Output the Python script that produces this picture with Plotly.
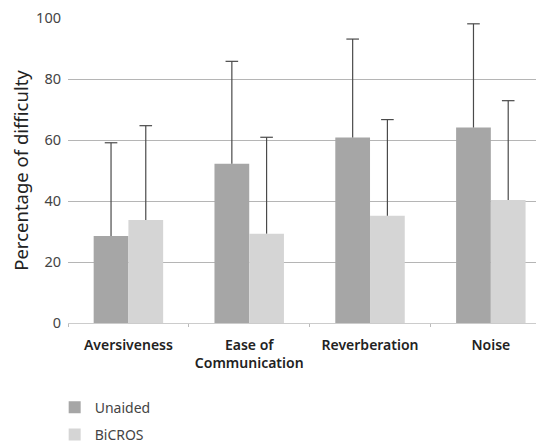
import plotly.graph_objects as go

categories = ["Aversiveness", "Ease of<br>Communication", "Reverberation", "Noise"]
unaided = [28.5, 52.2, 60.8, 64.1]
unaided_err = [30.6, 33.6, 32.3, 34.0]
bicros = [33.8, 29.3, 35.2, 40.3]
bicros_err = [30.9, 31.6, 31.5, 32.6]
y_ticks = [0, 20, 40, 60, 80, 100]

FONT = "Noto Sans"
ERR_COLOR = "#4a4a4a"


def add_series(name, vals, errs, color, group):
    fig.add_trace(go.Bar(
        name=name, x=categories, y=vals, marker_color=color,
        marker_line_width=0, legendgroup=group, offsetgroup=group,
        error_y=dict(type="data", symmetric=False, array=errs,
                     arrayminus=[0] * len(vals), color=ERR_COLOR,
                     thickness=1.2, width=0),
    ))
    # caps on the top end of the error bars only
    fig.add_trace(go.Scatter(
        x=categories, y=[v + e for v, e in zip(vals, errs)],
        mode="markers", offsetgroup=group, showlegend=False,
        hoverinfo="skip",
        marker=dict(symbol="line-ew", size=9,
                    line=dict(color=ERR_COLOR, width=1.2)),
    ))


fig = go.Figure()
add_series("Unaided", unaided, unaided_err, "#a6a6a6", "a")
add_series("BiCROS", bicros, bicros_err, "#d5d5d5", "b")

fig.update_layout(
    width=536, height=438,
    margin=dict(l=60, r=0, t=10, b=123, autoexpand=False),
    plot_bgcolor="white", paper_bgcolor="white",
    barmode="group", bargap=0.425, bargroupgap=0,
    scattermode="group", scattergap=0.425,
    font=dict(family=FONT, color="#444444", size=13),
    showlegend=True,
    legend=dict(x=-0.028, y=-0.225, xanchor="left", yanchor="top",
                orientation="v", traceorder="grouped", tracegroupgap=6,
                font=dict(size=14, color="#444444")),
    xaxis=dict(range=[-0.5, 3.44], showgrid=False, showline=True,
               linecolor="#cccccc", linewidth=1,
               tickson="boundaries", ticks="outside", ticklen=3,
               tickcolor="#bbbbbb", automargin=False,
               ticklabelstandoff=9,
               tickfont=dict(size=14, color="#222222", family=FONT,
                             weight=600)),
    yaxis=dict(range=[0, 100.01], tickvals=y_ticks, showgrid=True,
               gridcolor="#b5b5b5", gridwidth=1, zeroline=False,
               showline=False, ticks="", ticklabelstandoff=6,
               automargin=False, ticklabeloverflow="allow",
               tickfont=dict(size=14.5, color="#444444"),
               title=dict(text="Percentage of difficulty", standoff=6,
                          font=dict(size=18.5, color="#222222"))),
)

fig.write_html("out.html")
